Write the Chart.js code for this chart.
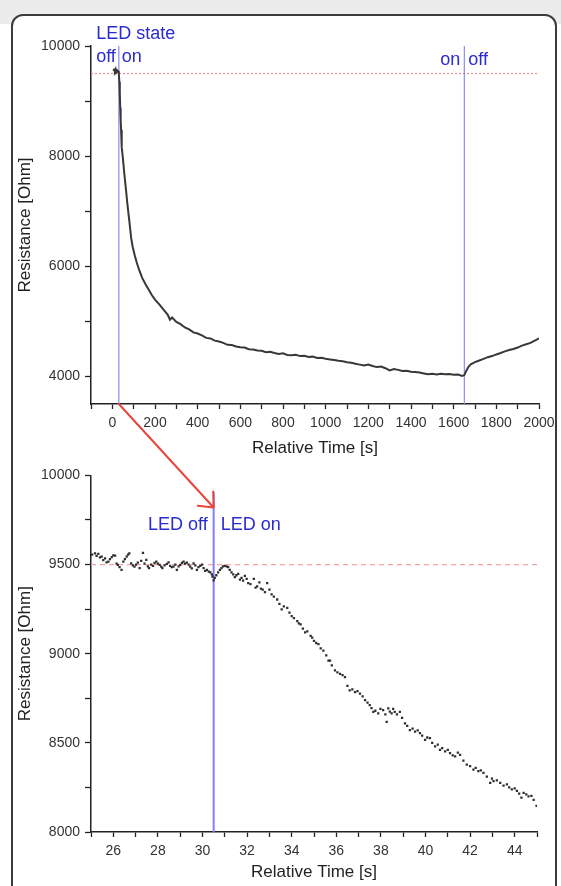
<!DOCTYPE html>
<html>
<head>
<meta charset="utf-8">
<script src="https://cdn.jsdelivr.net/npm/chart.js@4.4.1/dist/chart.umd.min.js"></script>
<style>
	body { margin: 0; background: #fff; font-family: "Liberation Sans", Arial, sans-serif; }
	#page { position: relative; width: 561px; height: 886px; overflow: hidden; }
	#band { position: absolute; left: 0; top: 0; width: 561px; height: 24px; background: #ececec; }
	#frame { position: absolute; left: 11px; top: 14px; width: 542px; height: 900px; border: 2px solid #3c3c3c; border-radius: 12px; background: #fff; }
	canvas { position: absolute; left: 0; }
</style>
</head>
<body>
<div id="page">
	<div id="band"></div>
	<div id="frame"></div>
	<canvas id="top" width="561" height="462" style="top:0px"></canvas>
	<canvas id="bottom" width="561" height="424" style="top:462px"></canvas>
	<canvas id="overlay" width="561" height="886" style="top:0px"></canvas>
</div>
<script>
// --- data ---
// whole run: relative time [s] and resistance [Ohm]
const topTime = [4, 8, 12, 16, 20, 24, 28, 30, 31, 33, 35, 37, 39, 41, 43, 45, 48, 52, 56, 60, 65, 70, 75, 80, 88, 95, 105, 115, 127, 140, 155, 170, 185,
	200, 220, 240, 260, 270, 280, 300, 320, 340, 360, 380, 400, 420, 440, 460, 480, 500, 520, 540, 560, 580, 600,
	620, 640, 660, 680, 700, 720, 740, 760, 780, 800, 820, 840, 860, 880, 900, 920, 940, 960, 980, 1000,
	1020, 1040, 1060, 1080, 1100, 1120, 1140, 1160, 1180, 1200, 1220, 1240, 1260, 1280, 1300, 1320, 1340, 1360, 1380, 1400,
	1420, 1440, 1460, 1480, 1500, 1520, 1540, 1560, 1580, 1600, 1620, 1640, 1650, 1660, 1670, 1680, 1700, 1720, 1740, 1760,
	1780, 1800, 1820, 1840, 1860, 1880, 1900, 1920, 1940, 1960, 1980, 2000];
const topResistance = [9550, 9570, 9540, 9580, 9530, 9555, 9540, 9490, 9480, 9350, 9150, 8880, 8660, 8480, 8310, 8160, 8020, 7860, 7690, 7540, 7350, 7150, 6980, 6810, 6520, 6360, 6200, 6060, 5920, 5790, 5680, 5580, 5480,
	5395, 5310, 5215, 5120, 5030, 5070, 4990, 4950, 4890, 4855, 4800, 4780, 4745, 4700, 4690, 4650, 4635, 4610, 4575, 4570, 4545, 4530,
	4525, 4495, 4490, 4470, 4465, 4440, 4450, 4425, 4410, 4420, 4390, 4385, 4395, 4370, 4375, 4355, 4360, 4335, 4340, 4320,
	4310, 4300, 4285, 4275, 4260, 4250, 4230, 4215, 4200, 4215, 4190, 4170, 4180, 4150, 4110, 4135, 4120, 4100, 4105, 4085,
	4080, 4070, 4055, 4040, 4050, 4035, 4050, 4040, 4045, 4030, 4035, 4010, 4025, 4110, 4180, 4220, 4260, 4290, 4320, 4350,
	4370, 4400, 4425, 4455, 4480, 4500, 4525, 4560, 4585, 4610, 4650, 4690];

// zoom around the LED switch-on
const zoomTime = [25.05, 25.18, 25.25, 25.33, 25.40, 25.48, 25.55, 25.63, 25.70, 25.78, 25.85, 25.93, 26.00, 26.08, 26.15, 26.20, 26.28, 26.37, 26.45, 26.52,
	26.60, 26.66, 26.72, 26.80, 26.88, 26.95, 27.02, 27.10, 27.18, 27.25, 27.33, 27.40, 27.48, 27.55, 27.60, 27.70, 27.78, 27.85, 27.93, 28.00,
	28.08, 28.15, 28.20, 28.30, 28.40, 28.48, 28.55, 28.62, 28.70, 28.78, 28.85, 28.93, 29.00, 29.08, 29.15, 29.22, 29.30, 29.38, 29.45, 29.52,
	29.60, 29.68, 29.75, 29.82, 29.90, 29.98, 30.05, 30.12, 30.20, 30.28, 30.35, 30.42, 30.45, 30.50, 30.55, 30.62, 30.70, 30.78, 30.85, 30.92,
	31.00, 31.08, 31.15, 31.22, 31.30, 31.38, 31.45, 31.52, 31.60, 31.68, 31.75, 31.82, 31.90, 31.98, 32.05, 32.15, 32.30, 32.38, 32.45, 32.55,
	32.62, 32.70, 32.80, 32.90, 33.00, 33.10, 33.20, 33.35, 33.45, 33.55, 33.65, 33.80, 33.90, 34.00, 34.10, 34.25, 34.32, 34.40, 34.50, 34.60,
	34.70, 34.85, 34.92, 35.00, 35.10, 35.20, 35.30, 35.42, 35.55, 35.65, 35.72, 35.80, 35.94, 36.05, 36.17, 36.28, 36.39, 36.50, 36.60, 36.72,
	36.84, 36.95, 37.06, 37.18, 37.29, 37.40, 37.50, 37.58, 37.66, 37.75, 37.88, 37.98, 38.10, 38.20, 38.26, 38.33, 38.40, 38.48, 38.55, 38.62,
	38.72, 38.85, 38.95, 39.08, 39.18, 39.30, 39.42, 39.53, 39.65, 39.75, 39.85, 39.98, 40.08, 40.20, 40.30, 40.43, 40.55, 40.65, 40.75, 40.88,
	41.00, 41.10, 41.22, 41.33, 41.45, 41.55, 41.70, 41.85, 42.00, 42.15, 42.25, 42.37, 42.48, 42.60, 42.75, 42.90, 42.98, 43.05, 43.20, 43.35,
	43.50, 43.65, 43.75, 43.87, 44.00, 44.10, 44.20, 44.30, 44.40, 44.52, 44.62, 44.75, 44.85, 44.98];
const zoomResistance = [9555, 9563, 9548, 9560, 9540, 9544, 9525, 9535, 9512, 9517, 9530, 9541, 9552, 9550, 9505, 9498, 9485, 9470, 9517, 9530,
	9544, 9555, 9563, 9507, 9495, 9489, 9500, 9511, 9480, 9520, 9566, 9505, 9526, 9490, 9480, 9500, 9493, 9510, 9517, 9505,
	9498, 9488, 9480, 9495, 9504, 9512, 9493, 9485, 9489, 9500, 9470, 9490, 9498, 9510, 9517, 9505, 9511, 9500, 9489, 9478,
	9507, 9495, 9470, 9485, 9493, 9500, 9480, 9465, 9470, 9460, 9456, 9445, 9433, 9411, 9425, 9440, 9456, 9470, 9480, 9490,
	9493, 9490, 9485, 9470, 9456, 9445, 9430, 9440, 9448, 9415, 9425, 9410, 9437, 9420, 9396, 9390, 9419, 9370, 9378, 9400,
	9365, 9359, 9345, 9396, 9360, 9333, 9320, 9304, 9280, 9248, 9265, 9257, 9230, 9211, 9200, 9183, 9170, 9165, 9140, 9119,
	9125, 9100, 9090, 9072, 9060, 9054, 9030, 9017, 8990, 8961, 8961, 8935, 8906, 8895, 8887, 8880, 8868, 8820, 8794, 8800,
	8785, 8790, 8776, 8760, 8739, 8725, 8711, 8695, 8674, 8680, 8665, 8690, 8683, 8660, 8618, 8693, 8675, 8665, 8690, 8674,
	8660, 8674, 8640, 8609, 8595, 8572, 8580, 8563, 8570, 8554, 8540, 8517, 8530, 8526, 8500, 8480, 8490, 8461, 8470, 8452,
	8460, 8443, 8430, 8424, 8445, 8433, 8400, 8378, 8370, 8350, 8360, 8341, 8345, 8331, 8310, 8276, 8300, 8285, 8290, 8276,
	8260, 8267, 8250, 8239, 8245, 8230, 8215, 8193, 8220, 8211, 8200, 8202, 8180, 8146];

// LED events and reference level
const ledOnTime = 30.5;
const ledOffTime = 1650;
const startLevel = 9500;
const arrowTipLevel = 9820;

const FONT = '"Liberation Sans", Arial, sans-serif';
const BLUE_TEXT = '#2b2bd2';

function axisX(min, max, step, labelEvery, title, height){
	return {
		type: 'linear', min: min, max: max,
		ticks: { stepSize: step, autoSkip: false, maxRotation: 0, padding: 6, color: '#333',
			font: { family: FONT, size: 14 },
			callback: v => (Math.abs(v % labelEvery) < 1e-9 ? String(v) : '') },
		grid: { drawOnChartArea: false, tickLength: 5, tickColor: '#222', tickWidth: 1.3 },
		border: { color: '#222', width: 1.5 },
		title: { display: true, text: title, color: '#222', font: { family: FONT, size: 17 }, padding: { top: 0, bottom: 3 } },
		afterFit: s => { s.height = height; }
	};
}
function axisY(min, max, step, labelEvery){
	return {
		type: 'linear', min: min, max: max,
		ticks: { stepSize: step, padding: 5, color: '#333', font: { family: FONT, size: 14 },
			callback: v => (v % labelEvery === 0 ? String(v) : '') },
		// ticks on round multiples of the step only
		afterBuildTicks: s => {
			const list = [];
			for (let v = Math.ceil(s.min / step) * step; v <= s.max; v += step) list.push({ value: v });
			s.ticks = list;
		},
		grid: { drawOnChartArea: false, tickLength: 6, tickColor: '#222', tickWidth: 1.3 },
		border: { color: '#222', width: 1.5 },
		title: { display: true, text: 'Resistance [Ohm]', color: '#222', font: { family: FONT, size: 17 }, padding: { top: 15, bottom: 0 } },
		afterFit: s => { s.width = 91; }
	};
}
function label(ctx, text, x, y, align){
	ctx.save();
	ctx.font = '18px ' + FONT;
	ctx.fillStyle = BLUE_TEXT;
	ctx.textAlign = align;
	ctx.textBaseline = 'middle';
	ctx.fillText(text, x, y);
	ctx.restore();
}

// top chart: whole measurement
const topChart = new Chart(document.querySelector('#top'), {
	type: 'scatter',
	data: {
		datasets: [{
			data: topTime.map((t, i) => ({ x: t, y: topResistance[i] })),
			showLine: true,
			borderColor: '#383838',
			borderWidth: 2,
			pointRadius: 0
		}]
	},
	options: {
		responsive: false,
		animation: false,
		layout: { padding: { top: 46, right: 22, bottom: 0, left: 0 } },
		plugins: { legend: { display: false }, tooltip: { enabled: false } },
		scales: { x: axisX(-100, 2000, 100, 200, 'Relative Time [s]', 58), y: axisY(3500, 10000, 1000, 2000) }
	},
	plugins: [{
		id: 'ledMarks',
		beforeDatasetsDraw(chart){
			const c = chart.ctx, a = chart.chartArea, x = chart.scales.x, y = chart.scales.y;
			c.save();
			c.strokeStyle = '#f08a8a';
			c.lineWidth = 1.2;
			c.setLineDash([2, 2]);
			c.beginPath();
			c.moveTo(a.left, y.getPixelForValue(startLevel));
			c.lineTo(a.right, y.getPixelForValue(startLevel));
			c.stroke();
			c.setLineDash([]);
			c.strokeStyle = '#8c8ce8';
			c.lineWidth = 1.2;
			[ledOnTime, ledOffTime].forEach(t => {
				c.beginPath();
				c.moveTo(x.getPixelForValue(t), a.top);
				c.lineTo(x.getPixelForValue(t), a.bottom);
				c.stroke();
			});
			c.restore();
		},
		afterDraw(chart){
			const c = chart.ctx, x = chart.scales.x, y = chart.scales.y;
			const xOn = x.getPixelForValue(ledOnTime), xOff = x.getPixelForValue(ledOffTime);
			c.font = '18px ' + FONT;
			const offWidth = c.measureText('off').width;
			label(c, 'LED state', xOn - 3 - offWidth, y.getPixelForValue(10210), 'left');
			label(c, 'off', xOn - 3, y.getPixelForValue(9800), 'right');
			label(c, 'on', xOn + 3, y.getPixelForValue(9800), 'left');
			label(c, 'on', xOff - 4, y.getPixelForValue(9745), 'right');
			label(c, 'off', xOff + 4, y.getPixelForValue(9745), 'left');
		}
	}]
});

// bottom chart: zoom around switching the LED on
const bottomChart = new Chart(document.querySelector('#bottom'), {
	type: 'scatter',
	data: {
		datasets: [{
			data: zoomTime.map((t, i) => ({ x: t, y: zoomResistance[i] })),
			backgroundColor: '#2e2e2e',
			borderWidth: 0,
			pointRadius: 1.6,
			pointStyle: 'rect'
		}]
	},
	options: {
		responsive: false,
		animation: false,
		layout: { padding: { top: 11, right: 24, bottom: 0, left: 0 } },
		plugins: { legend: { display: false }, tooltip: { enabled: false } },
		scales: { x: axisX(25, 45, 1, 2, 'Relative Time [s]', 54), y: axisY(8000, 10000, 250, 500) }
	},
	plugins: [{
		id: 'ledMarksZoom',
		beforeDatasetsDraw(chart){
			const c = chart.ctx, a = chart.chartArea, x = chart.scales.x, y = chart.scales.y;
			c.save();
			c.strokeStyle = '#f4a4a4';
			c.lineWidth = 1.2;
			c.setLineDash([5, 4]);
			c.beginPath();
			c.moveTo(a.left, y.getPixelForValue(startLevel));
			c.lineTo(a.right, y.getPixelForValue(startLevel));
			c.stroke();
			c.setLineDash([]);
			c.strokeStyle = '#8080ff';
			c.lineWidth = 2;
			c.beginPath();
			c.moveTo(x.getPixelForValue(ledOnTime), y.getPixelForValue(9905));
			c.lineTo(x.getPixelForValue(ledOnTime), a.bottom);
			c.stroke();
			c.restore();
		},
		afterDraw(chart){
			const c = chart.ctx, x = chart.scales.x, y = chart.scales.y;
			const xOn = x.getPixelForValue(ledOnTime);
			label(c, 'LED off', xOn - 6, y.getPixelForValue(9722), 'right');
			label(c, 'LED on', xOn + 7, y.getPixelForValue(9722), 'left');
		}
	}]
});

// red arrow linking the LED-on moment of both charts
const ov = document.querySelector('#overlay').getContext('2d');
const bottomTop = 462;
const x1 = topChart.scales.x.getPixelForValue(ledOnTime), y1 = topChart.chartArea.bottom;
const x2 = bottomChart.scales.x.getPixelForValue(ledOnTime), y2 = bottomTop + bottomChart.scales.y.getPixelForValue(arrowTipLevel);
const ang = Math.atan2(y1 - y2, x1 - x2);
ov.strokeStyle = '#e8463c';
ov.lineWidth = 2;
ov.lineCap = 'round';
ov.beginPath();
ov.moveTo(x1, y1);
ov.lineTo(x2, y2);
[0.72, -0.72].forEach(d => {
	ov.moveTo(x2, y2);
	ov.lineTo(x2 + 16 * Math.cos(ang + d), y2 + 16 * Math.sin(ang + d));
});
ov.stroke();
</script>
</body>
</html>
